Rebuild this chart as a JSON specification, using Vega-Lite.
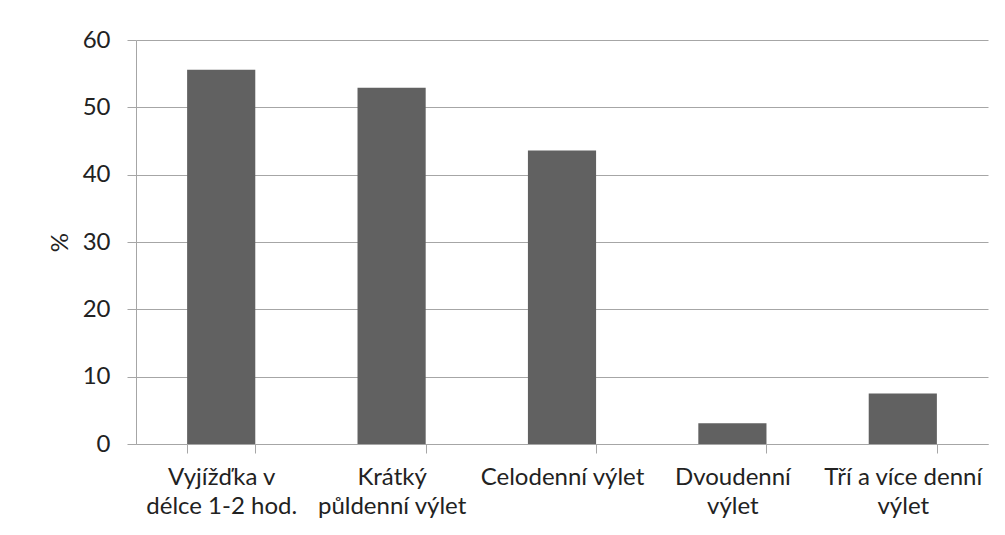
{
  "$schema": "https://vega.github.io/schema/vega-lite/v6.json",
  "autosize": "none",
  "width": 852,
  "height": 404,
  "padding": {"left": 136, "top": 40, "right": 17, "bottom": 91},
  "background": "white",
  "data": {
    "values": [
      {"kategorie": "Vyjížďka v\ndélce 1-2 hod.", "podil": 55.6},
      {"kategorie": "Krátký\npůldenní výlet", "podil": 52.9},
      {"kategorie": "Celodenní výlet", "podil": 43.6},
      {"kategorie": "Dvoudenní\nvýlet", "podil": 3.1},
      {"kategorie": "Tří a více denní\nvýlet", "podil": 7.5}
    ]
  },
  "mark": {"type": "bar", "color": "#616161"},
  "encoding": {
    "x": {
      "field": "kategorie",
      "type": "nominal",
      "sort": null,
      "scale": {"paddingInner": 0.6, "paddingOuter": 0.3},
      "axis": {
        "title": null,
        "labelAngle": 0,
        "labelExpr": "split(datum.label, '\\n')",
        "labelFont": "Lato",
        "labelFontSize": 24,
        "labelColor": "#222222",
        "labelLineHeight": 29,
        "labelPadding": 12,
        "labelLimit": 300,
        "tickBand": "extent",
        "tickSize": 9,
        "tickColor": "#a6a6a6",
        "domainColor": "#a6a6a6",
        "grid": false
      }
    },
    "y": {
      "field": "podil",
      "type": "quantitative",
      "scale": {"domain": [0, 60], "nice": false},
      "axis": {
        "title": "%",
        "titleFont": "Lato",
        "titleFontSize": 24,
        "titleFontWeight": "normal",
        "titleColor": "#222222",
        "titlePadding": 10,
        "values": [0, 10, 20, 30, 40, 50, 60],
        "labelFont": "Lato",
        "labelFontSize": 24,
        "labelColor": "#222222",
        "labelPadding": 17,
        "tickSize": 9,
        "tickColor": "#a6a6a6",
        "domainColor": "#a6a6a6",
        "gridColor": "#a6a6a6",
        "grid": true
      }
    }
  },
  "config": {"view": {"stroke": null}}
}
